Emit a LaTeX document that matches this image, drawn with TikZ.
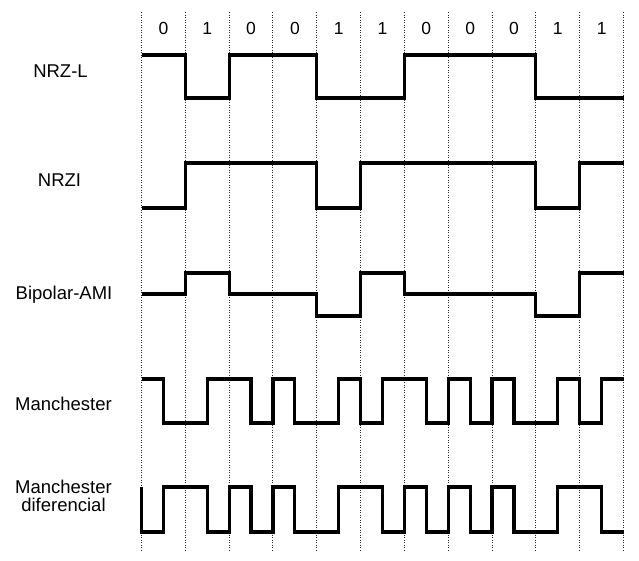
\documentclass[tikz,border=0pt]{standalone}
\usepackage{fontspec}
\setmainfont{Liberation Sans}
\tikzset{
  grid/.style={line width=1pt, black!85, dash pattern=on 1.2pt off 1.3pt},
  signal/.style={line width=3.2pt, line join=miter},
  code/.style={anchor=base, align=center, font=\fontsize{18.5}{18.5}\selectfont},
  bit/.style={anchor=base, font=\fontsize{17.5}{18}\selectfont}
}
\begin{document}
\begin{tikzpicture}[x=1pt,y=-1pt]
\useasboundingbox (0,0) rectangle (639,560);
  \node[code] (nrzl) at (60.5,77.5) {NRZ-L};
  \node[code] (nrzi) at (59.5,186.5) {NRZI};
  \node[code] (ami) at (64,299.5) {Bipolar-AMI};
  \node[code] (manch) at (63.5,410.7) {Manchester};
  \node[code] (dmanch) at (63.5,511.7) {Manchester\\diferencial};
\begin{scope}[xshift=141.5pt, x=43.82pt]
  \foreach \i in {0,...,11}
    \draw[grid] (\i,12) -- (\i,550);
  \foreach \b [count=\i from 0] in {0,1,0,0,1,1,0,0,0,1,1}
    \node[bit] (b\i) at (\i+0.5,34.3) {\b};
% NRZ-L
  \draw[signal] (0,55) -| (1,98) -| (2,55) -| (4,98) -| (6,55) -| (9,98) -- (11,98);
% NRZI
  \draw[signal] (0,208) -| (1,163) -| (4,208) -| (5,163) -| (9,208) -| (10,163) -- (11,163);
% Bipolar-AMI
  \draw[signal] (0,294) -| (1,273) -| (2,294) -| (4,316) -| (5,273) -| (6,294)
    -| (9,316) -| (10,273) -- (11,273);
% Manchester
  \draw[signal] (0,379) -| (0.5,423) -| (1.5,379) -| (2.5,423) -| (3,379) -| (3.5,423)
    -| (4.5,379) -| (5,423) -| (5.5,379) -| (6.5,423) -| (7,379) -| (7.5,423)
    -| (8,379) -| (8.5,423) -| (9.5,379) -| (10,423) -| (10.5,379) -- (11,379);
% Manchester diferencial
  \draw[signal] (0,487) -- (0,532) -| (0.5,487) -| (1.5,532) -| (2,487) -| (2.5,532)
    -| (3,487) -| (3.5,532) -| (4.5,487) -| (5.5,532) -| (6,487) -| (6.5,532)
    -| (7,487) -| (7.5,532) -| (8,487) -| (8.5,532) -| (9.5,487) -| (10.5,532) -- (11,532);
\end{scope}
\end{tikzpicture}
\end{document}
